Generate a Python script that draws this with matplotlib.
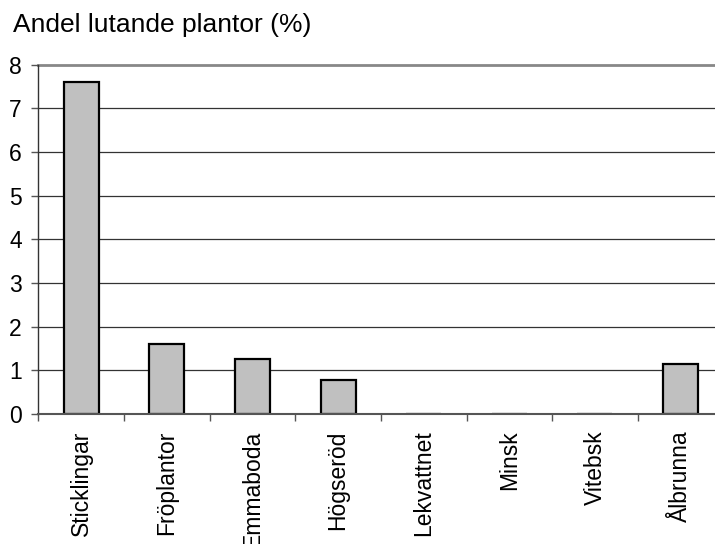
import matplotlib
matplotlib.use("Agg")
import matplotlib.pyplot as plt
import numpy as np

plt.rcParams['font.family'] = ['Liberation Sans', 'DejaVu Sans']

categories = ["Sticklingar", "Fröplantor", "Emmaboda", "Högseröd",
              "Lekvattnet", "Minsk", "Vitebsk", "Ålbrunna"]
values = [7.6, 1.6, 1.26, 0.78, 0.0, 0.0, 0.0, 1.14]
yticks = [0, 1, 2, 3, 4, 5, 6, 7, 8]

fig = plt.figure(figsize=(7.15, 5.44), dpi=100)
ax = fig.add_axes([0.0537, 0.239, 0.958, 0.6424])

x = np.arange(len(categories))
ax.bar(x, values, width=0.41, color="#C0C0C0", edgecolor="black",
       linewidth=1.6, zorder=3)

ax.set_xlim(-0.5, len(categories) - 0.5)
ax.set_ylim(0, 8)
ax.set_yticks(yticks)
ax.set_yticklabels([str(v) for v in yticks], fontsize=16.5)

# category labels centred, tick marks on category boundaries
ax.set_xticks(x)
ax.set_xticklabels(categories, rotation=90, fontsize=16.5, va="top")
ax.tick_params(axis="x", length=0, pad=12)
ax.set_xticks(np.arange(-0.5, len(categories), 1.0), minor=True)
ax.tick_params(axis="x", which="minor", length=5, width=1, color="#555555",
               direction="out")
ax.tick_params(axis="y", length=5, width=1, color="#555555", pad=7)

for v in yticks[1:-1]:
    ax.axhline(v, color="#333333", linewidth=0.9, zorder=1)
ax.axhline(8, color="#888888", linewidth=2.0, zorder=1, clip_on=False)

for side in ("top", "right"):
    ax.spines[side].set_visible(False)
ax.spines["left"].set_color("#333333")
ax.spines["left"].set_linewidth(1.0)
ax.spines["bottom"].set_color("#555555")
ax.spines["bottom"].set_linewidth(1.5)
ax.spines["bottom"].set_zorder(5)

fig.text(13 / 715, 1 - 32 / 544, "Andel lutande plantor (%)", fontsize=19,
         ha="left", va="baseline")

fig.savefig("out.png", dpi=100)
